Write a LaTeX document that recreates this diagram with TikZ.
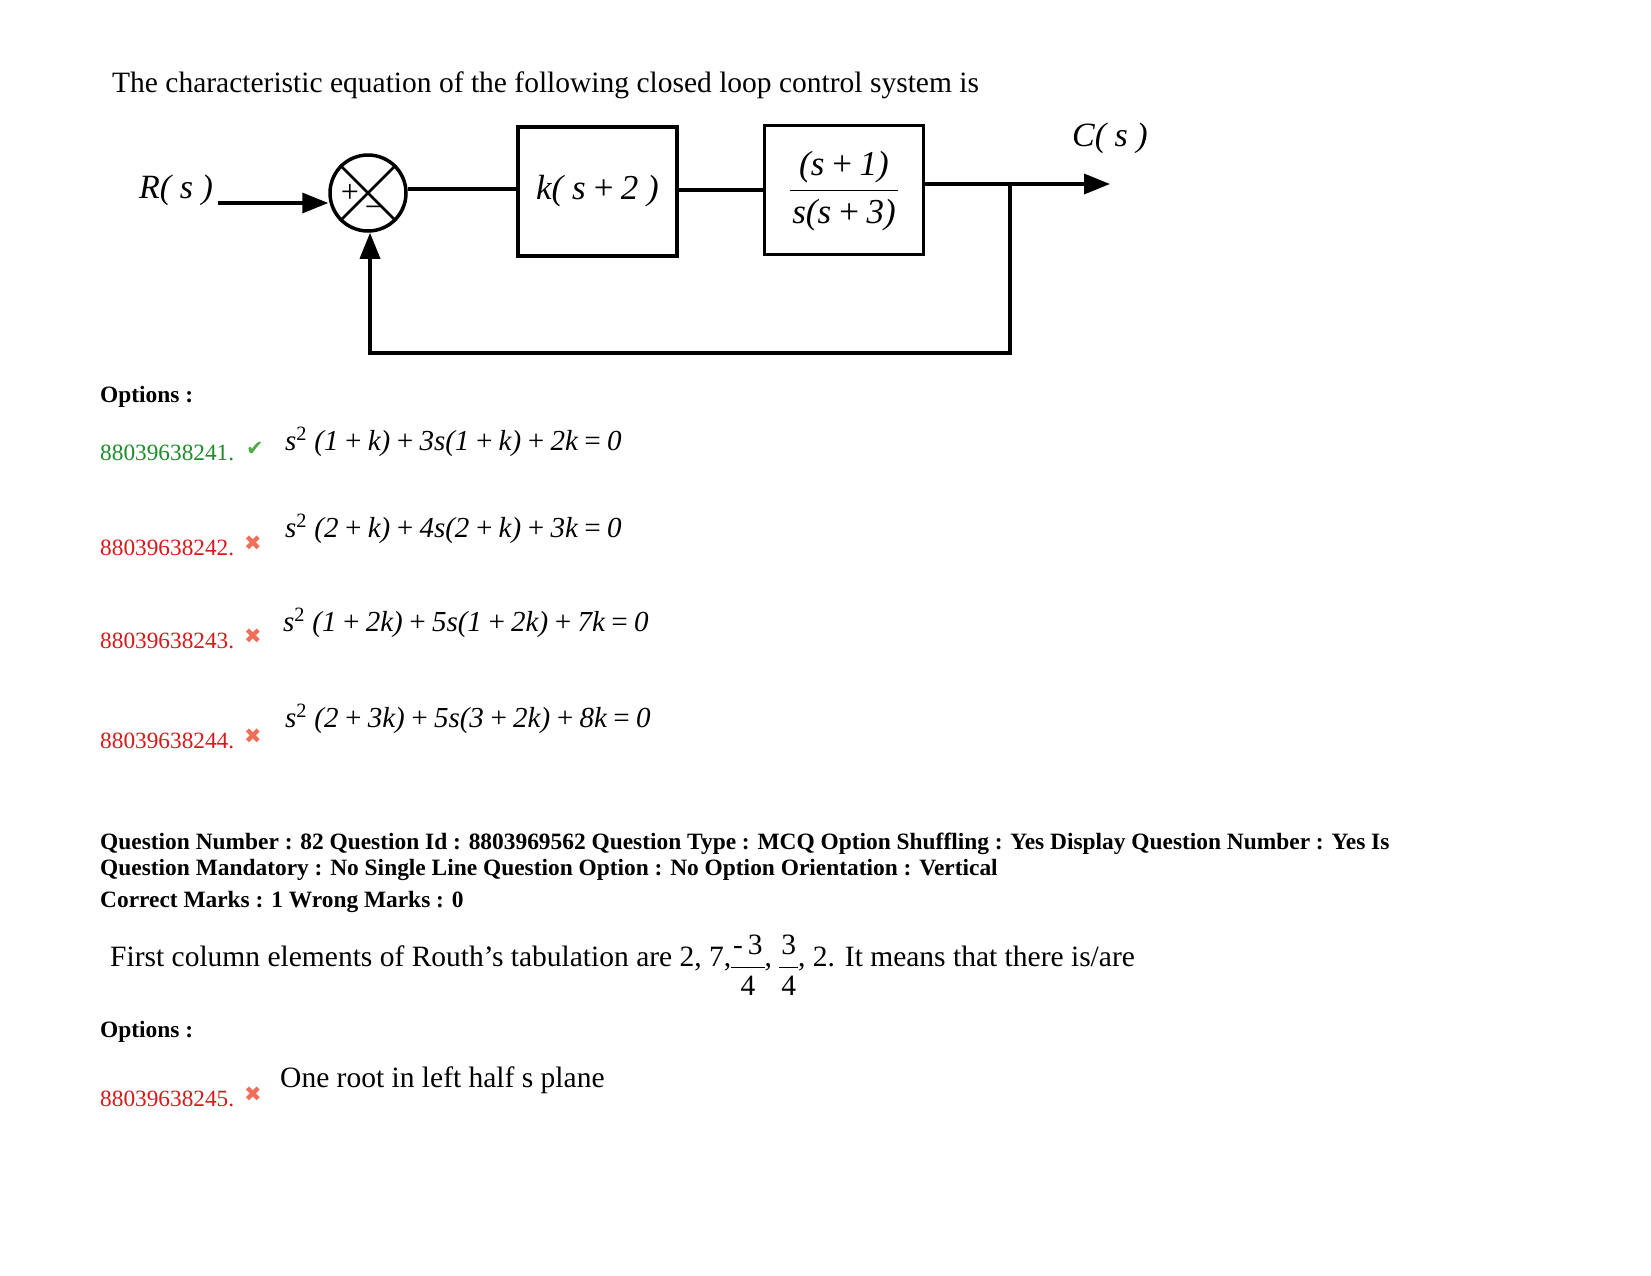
\documentclass[tikz,border=0pt]{standalone}
\usepackage{fontspec}
\setmainfont{Liberation Serif}
\newfontfamily\djv{DejaVu Sans}
\usetikzlibrary{arrows.meta}
\definecolor{okgreen}{RGB}{30,140,40}
\definecolor{badred}{RGB}{215,25,25}
\definecolor{xred}{RGB}{240,110,90}
\definecolor{ckgreen}{RGB}{80,170,70}
\newcommand{\myfrac}[2]{\setlength{\tabcolsep}{2pt}\renewcommand{\arraystretch}{1.25}\begin{tabular}[c]{c}#1\\\hline #2\end{tabular}}
\begin{document}
\begin{tikzpicture}[x=1pt,y=-1pt,
  blk/.style={draw,line width=3.5pt,minimum width=159pt,minimum height=129pt,inner sep=0pt,font=\fontsize{35}{38}\selectfont\itshape},
  wire/.style={line width=3.5pt},
  arr/.style={wire,-{Triangle[length=26pt,width=20pt]}},
  txt/.style={anchor=base west,inner sep=0pt,font=\fontsize{29.5}{32}\selectfont},
  bold/.style={anchor=base west,inner sep=0pt,font=\fontsize{23.4}{26}\selectfont\bfseries},
  num/.style={anchor=base west,inner sep=0pt,font=\fontsize{23.3}{26}\selectfont},
  eq/.style={anchor=base west,inner sep=0pt,font=\fontsize{29}{31}\selectfont\itshape},
  tick/.style={inner sep=0pt,font=\djv\fontsize{21}{22}\selectfont}]
\useasboundingbox (0,0) rectangle (1651,1275);
\node[txt] (t1) at (112,92) {The characteristic equation of the following closed loop control system is};
\node[inner sep=0pt,font=\fontsize{34}{36}\selectfont\itshape] (R) at (176,190) {R( s )};
\node[inner sep=0pt,font=\fontsize{34}{36}\selectfont\itshape] (C) at (1110,138) {C( s )};
\node[draw,circle,line width=3.5pt,minimum size=76pt,inner sep=0pt] (sum) at (368,193) {};
\draw[line width=2.5pt] (sum.north west) -- (sum.south east) (sum.north east) -- (sum.south west);
\node[inner sep=0pt,font=\fontsize{32}{32}\selectfont] (plus) at (350,193) {+};
\node[inner sep=0pt,font=\fontsize{32}{32}\selectfont] (minus) at (374,212) {−};
\node[blk] (b1) at (597.5,191.5) {k( s\,+\,2 )};
\node[blk] (b2) at (844,190) {\myfrac{(s\,+\,\textit{1})}{s(s\,+\,3)}};
\coordinate (rin) at (218,203);
\coordinate (bp) at (1010,184);
\coordinate (out) at (1110,184);
\coordinate (fb1) at (1010,353);
\coordinate (fb2) at (370,353);
\draw[arr] (rin) -- (sum.west |- rin);
\draw[wire] (sum.east |- 0,189) -- (b1.west |- 0,189);
\draw[wire] (b1.east |- 0,190) -- (b2.west |- 0,190);
\draw[arr] (b2.east |- bp) -- (out);
\draw[arr] (bp) -- (fb1) -- (fb2) -- (sum.south -| fb2);
\node[bold] (o1) at (100,402) {Options :};
\node[num,text=okgreen] (n1) at (100,460) {88039638241.};
\node[tick,text=ckgreen] (m1) at (255,449) {✔};
\node[eq] (e1) at (285,450) {s\textsuperscript{\upshape 2} (1\,+\,k)\,+\,3s(1\,+\,k)\,+\,2k\,=\,0};
\node[num,text=badred] (n2) at (100,555) {88039638242.};
\node[tick,text=xred] (m2) at (253,543) {✖};
\node[eq] (e2) at (285,537) {s\textsuperscript{\upshape 2} (2\,+\,k)\,+\,4s(2\,+\,k)\,+\,3k\,=\,0};
\node[num,text=badred] (n3) at (100,648) {88039638243.};
\node[tick,text=xred] (m3) at (253,636) {✖};
\node[eq] (e3) at (283,631) {s\textsuperscript{\upshape 2} (1\,+\,2k)\,+\,5s(1\,+\,2k)\,+\,7k\,=\,0};
\node[num,text=badred] (n4) at (100,748) {88039638244.};
\node[tick,text=xred] (m4) at (253,736) {✖};
\node[eq] (e4) at (285,727) {s\textsuperscript{\upshape 2} (2\,+\,3k)\,+\,5s(3\,+\,2k)\,+\,8k\,=\,0};
\node[bold] (q1) at (100,849) {Question Number : 82 Question Id : 8803969562 Question Type : MCQ Option Shuffling : Yes Display Question Number : Yes Is};
\node[bold] (q2) at (100,875) {Question Mandatory : No Single Line Question Option : No Option Orientation : Vertical};
\node[bold] (q3) at (100,907) {Correct Marks : 1 Wrong Marks : 0};
\node[txt] (t2) at (110,966) {First column elements of Routh's tabulation are 2, 7,\raisebox{-0.25em}{\myfrac{-\,3}{4}}, \raisebox{-0.25em}{\myfrac{3}{4}}, 2. It means that there is/are};
\node[bold] (o2) at (100,1037) {Options :};
\node[num,text=badred] (n5) at (100,1106) {88039638245.};
\node[tick,text=xred] (m5) at (253,1094) {✖};
\node[txt] (e5) at (280,1087) {One root in left half s plane};
\end{tikzpicture}
\end{document}
